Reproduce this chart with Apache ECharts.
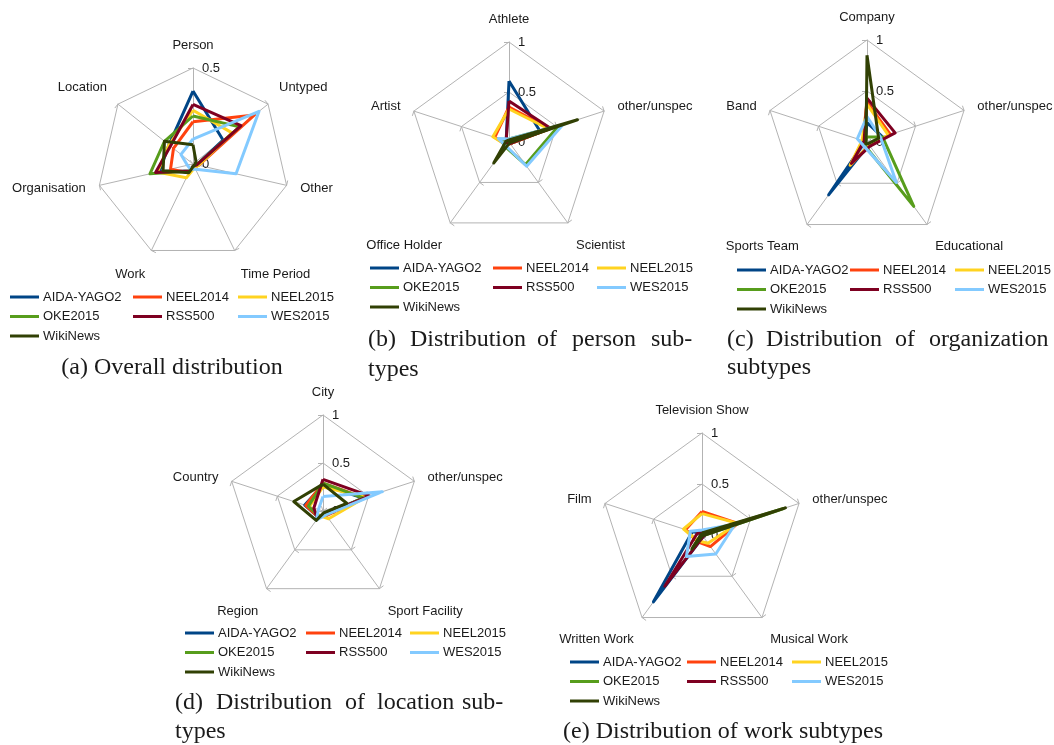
<!DOCTYPE html>
<html><head><meta charset="utf-8">
<script src="https://cdn.jsdelivr.net/npm/echarts@6/dist/echarts.min.js"></script>
<style>html,body{margin:0;padding:0;background:#fff}#c{width:1054px;height:745px}</style>
</head><body><div id="c"></div>
<script>
// ---------- data ----------
const datasets = ['AIDA-YAGO2','NEEL2014','NEEL2015','OKE2015','RSS500','WES2015','WikiNews'];
const colors   = ['#004586','#ff420e','#ffd320','#579d1c','#7e0021','#83caff','#314004'];

const axesA = ['Person','Untyped','Other','Time Period','Work','Organisation','Location'];
const valsA = [
  [0.38,0.20,0.02,0.01,0.04,0.18,0.16],
  [0.22,0.41,0.03,0.02,0.05,0.12,0.13],
  [0.28,0.26,0.03,0.02,0.08,0.19,0.16],
  [0.25,0.31,0.02,0.01,0.04,0.23,0.19],
  [0.31,0.32,0.02,0.01,0.04,0.20,0.15],
  [0.13,0.44,0.23,0.03,0.03,0.03,0.08],
  [0.10,0.02,0.01,0.01,0.05,0.16,0.19]
];
const axesB = ['Athlete','other/unspec','Scientist','Office Holder','Artist'];
const valsB = [
  [0.61,0.33,0.02,0.03,0.03],
  [0.35,0.43,0.02,0.04,0.15],
  [0.33,0.42,0.02,0.04,0.17],
  [0.03,0.52,0.28,0.06,0.09],
  [0.41,0.44,0.02,0.03,0.03],
  [0.03,0.57,0.30,0.05,0.11],
  [0.02,0.72,0.01,0.26,0.03]
];
const axesC = ['Company','other/unspec','Educational','Sports Team','Band'];
const valsC = [
  [0.19,0.16,0.03,0.64,0.02],
  [0.39,0.24,0.04,0.28,0.04],
  [0.37,0.22,0.04,0.28,0.05],
  [0.05,0.16,0.78,0.04,0.02],
  [0.43,0.29,0.05,0.26,0.03],
  [0.25,0.14,0.49,0.05,0.10],
  [0.85,0.12,0.02,0.02,0.01]
];
const axesD = ['City','other/unspec','Sport Facility','Region','Country'];
const valsD = [
  [0.27,0.44,0.05,0.08,0.20],
  [0.29,0.45,0.06,0.08,0.19],
  [0.25,0.47,0.10,0.06,0.15],
  [0.29,0.44,0.05,0.07,0.16],
  [0.33,0.51,0.04,0.10,0.10],
  [0.15,0.65,0.05,0.12,0.05],
  [0.28,0.26,0.02,0.12,0.32]
];
const axesE = ['Television Show','other/unspec','Musical Work','Written Work','Film'];
const valsE = [
  [0.02,0.05,0.02,0.81,0.10],
  [0.23,0.37,0.14,0.08,0.17],
  [0.21,0.37,0.10,0.07,0.19],
  [0.01,0.84,0.01,0.15,0.01],
  [0.02,0.04,0.02,0.62,0.05],
  [0.05,0.34,0.23,0.26,0.12],
  [0.02,0.86,0.01,0.17,0.01]
];
const maxA = 0.5, maxOther = 1;
const captionA = '(a) Overall distribution';
const captionB = ['(b)','Distribution','of','person','sub-','types'];
const captionC = ['(c)','Distribution','of','organization','subtypes'];
const captionD = ['(d)','Distribution','of','location','sub-','types'];
const captionE = '(e) Distribution of work subtypes';

// ---------- layout ----------
const CCW = true; // ECharts radar places indicators counter-clockwise
function ord(a){ return CCW ? [a[0]].concat(a.slice(1).reverse()) : a; }

const charts = [
  {axes:axesA, vals:valsA, max:maxA, split:1, center:[193,164], r:96, lx:[10,133,238], ly:290},
  {axes:axesB, vals:valsB, max:maxOther, split:2, center:[509,142], r:100, lx:[370,493,597], ly:261},
  {axes:axesC, vals:valsC, max:maxOther, split:2, center:[867,142], r:102, lx:[737,850,955], ly:263},
  {axes:axesD, vals:valsD, max:maxOther, split:2, center:[323,511], r:96, lx:[185,306,410], ly:626},
  {axes:axesE, vals:valsE, max:maxOther, split:2, center:[702,535], r:102, lx:[570,687,792], ly:655}
];
const gray = '#b3b3b3';
const font = 'Liberation Sans';
const legendCols = [[0,3,6],[1,4],[2,5]];

function nameKey(i, n){
  if (i === 0) return 'top';
  const s = Math.sin(Math.PI/2 - i * 2 * Math.PI / n);
  if (s > 0.5) return 'up';
  if (s < -0.5) return 'lo';
  return 'mid';
}
const baseName = {color: '#1a1a1a', fontSize: 13, fontFamily: font};
const rich = {
  top: Object.assign({padding: [0,0,2,0]}, baseName),
  up:  Object.assign({padding: [0,0,16,0]}, baseName),
  lo:  Object.assign({padding: [22,0,0,0]}, baseName),
  mid: Object.assign({}, baseName)
};

const radar = [], series = [], legend = [];
charts.forEach((c, ci) => {
  const n = c.axes.length;
  const inds = c.axes.map((name, i) => ({
    name: name, min: 0, max: c.max,
    axisLabel: {show: i === 0}
  }));
  radar.push({
    center: c.center, radius: c.r, startAngle: 90, shape: 'polygon',
    splitNumber: c.split,
    indicator: ord(inds),
    axisName: Object.assign({
      rich: rich,
      formatter: function (v) { return '{' + nameKey(c.axes.indexOf(v), n) + '|' + v + '}'; }
    }, baseName),
    nameGap: 14,
    axisLine: {lineStyle: {color: gray, width: 1}},
    splitLine: {lineStyle: {color: gray, width: 1}},
    splitArea: {show: false},
    axisTick: {show: true, length: 5, lineStyle: {color: gray}},
    axisLabel: {show: false, color: '#1a1a1a', fontSize: 13, fontFamily: font, margin: -9, align: 'left', verticalAlign: 'middle'}
  });
  series.push({
    type: 'radar', radarIndex: ci, symbol: 'none', silent: true,
    data: datasets.map((nm, k) => ({
      name: nm, value: ord(c.vals[k]),
      lineStyle: {color: colors[k], width: 3},
      itemStyle: {color: colors[k]}
    }))
  });
  legendCols.forEach((col, j) => {
    legend.push({
      orient: 'vertical', left: c.lx[j], top: c.ly,
      data: col.map(k => datasets[k]),
      icon: 'rect', itemWidth: 29, itemHeight: 3, itemGap: 5.5,
      padding: 0, selectedMode: false,
      textStyle: {color: '#1a1a1a', fontSize: 13, fontFamily: font, lineHeight: 14, padding: [0,0,0,-1]}
    });
  });
});

const serif = '24px "Liberation Serif"';
function txt(s, x, y, align){
  return {type:'text', x:x, y:y, style:{text:s, font:serif, fill:'#1a1a1a', align:align||'left', textAlign:align||'left', verticalAlign:'middle', textVerticalAlign:'middle'}};
}
const graphic = [
  txt(captionA, 172, 368, 'center'),
  txt(captionB[0], 368, 340), txt(captionB[1], 410, 340), txt(captionB[2], 537, 340), txt(captionB[3], 572, 340), txt(captionB[4], 651, 340), txt(captionB[5], 368, 370),
  txt(captionC[0], 727, 340), txt(captionC[1], 766, 340), txt(captionC[2], 895, 340), txt(captionC[3], 929, 340), txt(captionC[4], 727, 368),
  txt(captionD[0], 175, 703), txt(captionD[1], 216, 703), txt(captionD[2], 345, 703), txt(captionD[3], 377, 703), txt(captionD[4], 462, 703), txt(captionD[5], 175, 732),
  txt(captionE, 723, 732, 'center')
];

const chart = echarts.init(document.getElementById('c'), null, {renderer: 'canvas'});
chart.setOption({animation: false, backgroundColor: '#fff', radar, series, legend, graphic});
</script>
</body></html>
